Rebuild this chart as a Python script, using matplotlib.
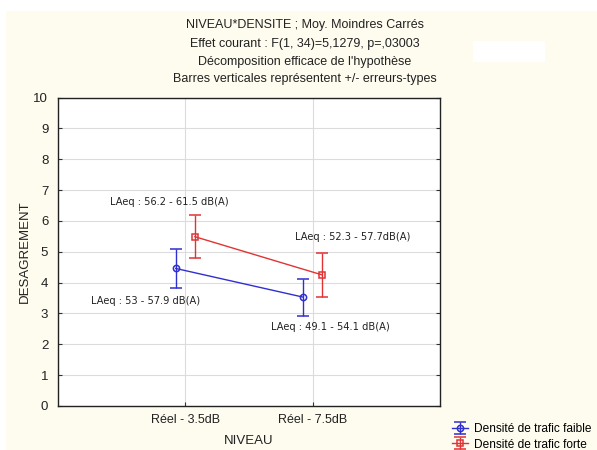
import matplotlib.pyplot as plt
from matplotlib.patches import Rectangle
import numpy as np

# Data
niveaux = ["Réel - 3.5dB", "Réel - 7.5dB"]
series_names = ["Densité de trafic faible", "Densité de trafic forte"]
faible_mean = [4.46, 3.53]
faible_se = [0.62, 0.60]
forte_mean = [5.49, 4.25]
forte_se = [0.69, 0.70]
faible_laeq = ["LAeq : 53 - 57.9 dB(A)", "LAeq : 49.1 - 54.1 dB(A)"]
forte_laeq = ["LAeq : 56.2 - 61.5 dB(A)", "LAeq : 52.3 - 57.7dB(A)"]
title_lines = [
    "NIVEAU*DENSITE ; Moy. Moindres Carrés",
    "Effet courant : F(1, 34)=5,1279, p=,03003",
    "Décomposition efficace de l'hypothèse",
    "Barres verticales représentent +/- erreurs-types",
]

BLUE = "#2f2fd0"
RED = "#e03434"
CREAM = "#fefbef"
FONT = "Liberation Sans"

fig = plt.figure(figsize=(5.97, 4.5), dpi=100)
fig.patch.set_facecolor("white")
# cream panel (small white border at top and left in the original)
fig.patches.append(Rectangle((6 / 597, 0), 1, 1 - 11 / 450,
                             transform=fig.transFigure, facecolor=CREAM,
                             edgecolor="none", zorder=-10))
# empty white box at top right
fig.patches.append(Rectangle((473 / 597, 1 - 62 / 450), 72 / 597, 21 / 450,
                             transform=fig.transFigure, facecolor="white",
                             edgecolor="none", zorder=-5))

ax = fig.add_axes([58 / 597, 44 / 450, 382 / 597, 308.4 / 450])
ax.set_facecolor("white")

x = np.arange(len(niveaux))
off = 0.075
eb1 = ax.errorbar(x - off, faible_mean, yerr=faible_se, color=BLUE, lw=1,
                  marker="o", ms=4.5, mfc="none", mew=1.1, capsize=4,
                  elinewidth=1, capthick=1, label=series_names[0], zorder=3)
eb2 = ax.errorbar(x + off, forte_mean, yerr=forte_se, color=RED, lw=1,
                  marker="s", ms=4.5, mfc="none", mew=1.1, capsize=4,
                  elinewidth=1, capthick=1, label=series_names[1], zorder=3)

ann = dict(fontsize=7.1, family="DejaVu Sans", color="#222222", va="center")
ax.text(-0.59, 6.62, forte_laeq[0], **ann)
ax.text(0.862, 5.48, forte_laeq[1], **ann)
ax.text(-0.743, 3.41, faible_laeq[0], **ann)
ax.text(0.671, 2.57, faible_laeq[1], **ann)

ax.set_xlim(-1, 2)
ax.set_ylim(0, 10)
ax.set_xticks(x)
ax.set_xticklabels(niveaux, family=FONT, fontsize=9)
ax.set_yticks(range(0, 11))
ax.set_yticklabels([str(v) for v in range(0, 11)], family=FONT, fontsize=9.5)
ax.tick_params(axis="y", direction="in", length=3, pad=7, colors="#333333",
               right=True)
ax.tick_params(axis="x", direction="in", length=3, pad=6, colors="#333333")
ax.tick_params(labelcolor="#222222")
ax.grid(True, color="#dcdcdc", lw=0.8)
ax.set_axisbelow(True)
for s in ax.spines.values():
    s.set_color("#222222")
    s.set_linewidth(1)

ax.set_xlabel("NIVEAU", family=FONT, fontsize=9.5, color="#222222", labelpad=6)
ax.set_ylabel("DESAGREMENT", family=FONT, fontsize=9.5, color="#222222",
              labelpad=2)

ys = [25, 43.5, 62, 79]
for line, yp in zip(title_lines, ys):
    fig.text(305 / 597, 1 - yp / 450, line, ha="center", va="center",
             family=FONT, fontsize=9, color="#222222")

fig.legend(handles=[eb1, eb2], loc="upper left",
           bbox_to_anchor=(452 / 597, 1 - 423 / 450), frameon=False,
           prop={"family": FONT, "size": 8.6}, handlelength=1.3,
           handletextpad=0.55, labelspacing=0.3, borderpad=0,
           borderaxespad=0)

fig.savefig("out.png", dpi=100, facecolor=fig.get_facecolor())
